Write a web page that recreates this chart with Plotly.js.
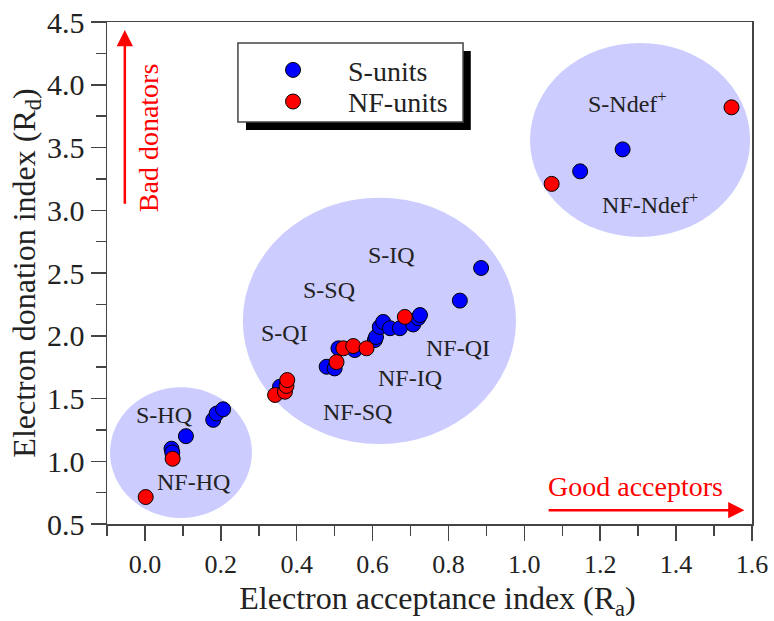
<!DOCTYPE html>
<html>
<head>
<meta charset="utf-8">
<script src="https://cdn.plot.ly/plotly-3.0.1.min.js"></script>
<style>html,body{margin:0;padding:0;background:#fff;}#chart{width:774px;height:621px;}</style>
</head>
<body>
<div id="chart"></div>
<script>
// ---- data ----
const sX = [0.070, 0.072, 0.108, 0.180, 0.189, 0.206, 0.356, 0.479, 0.500, 0.510, 0.553, 0.606, 0.609, 0.619, 0.628, 0.646, 0.672, 0.707, 0.720, 0.725, 0.830, 0.886, 1.147, 1.259];
const sY = [1.10, 1.07, 1.20, 1.33, 1.38, 1.414, 1.594, 1.753, 1.74, 1.90, 1.886, 1.966, 1.99, 2.07, 2.11, 2.06, 2.06, 2.09, 2.14, 2.165, 2.28, 2.54, 3.31, 3.485];
const nfX = [0.002, 0.073, 0.343, 0.369, 0.373, 0.375, 0.505, 0.523, 0.549, 0.584, 0.685, 1.072, 1.546];
const nfY = [0.715, 1.02, 1.528, 1.554, 1.60, 1.647, 1.79, 1.90, 1.918, 1.90, 2.15, 3.21, 3.82];
const seriesNames = ["S-units", "NF-units"];

// group regions (ellipse bounds, data units): [x0, x1, y0, y1]
const groupHQ = [-0.092, 0.282, 0.548, 1.59];
const groupMid = [0.258, 0.978, 1.137, 3.10];
const groupNdef = [1.015, 1.595, 2.787, 4.333];

// group labels
const labelText = ["S-HQ", "NF-HQ", "S-QI", "S-SQ", "S-IQ", "NF-IQ", "NF-SQ", "NF-QI", "S-Ndef<sup>+</sup>", "NF-Ndef<sup>+</sup>"];
const labelX = [0.050, 0.127, 0.367, 0.485, 0.650, 0.698, 0.560, 0.825, 1.273, 1.331];
const labelY = [1.37, 0.835, 2.02, 2.365, 2.64, 1.66, 1.39, 1.90, 3.86, 3.06];

const xTickVals = [0.0, 0.2, 0.4, 0.6, 0.8, 1.0, 1.2, 1.4, 1.6];
const yTickVals = [0.5, 1.0, 1.5, 2.0, 2.5, 3.0, 3.5, 4.0, 4.5];

// ---- styling ----
const FONT = "Liberation Serif, Times New Roman, serif";
const AX = "#444";
const ELL = "rgb(204,204,255)";
const PAD = "&nbsp;&nbsp;&nbsp;&nbsp;&nbsp;";

function ell(b) {
  return {type: "circle", xref: "x", yref: "y", x0: b[0], x1: b[1], y0: b[2], y1: b[3],
          fillcolor: ELL, line: {width: 0}, layer: "below"};
}

const traces = [
  {x: sX, y: sY, name: PAD + seriesNames[0], type: "scatter", mode: "markers", legend: "legend",
   marker: {color: "#0000ff", size: 15, line: {color: "#000", width: 1}}},
  {x: nfX, y: nfY, name: PAD + seriesNames[1], type: "scatter", mode: "markers", legend: "legend2",
   marker: {color: "#ff0000", size: 15, line: {color: "#000", width: 1}}}
];

const annotations = labelText.map((t, i) => ({
  x: labelX[i], y: labelY[i], xref: "x", yref: "y", text: t, showarrow: false,
  font: {family: FONT, size: 24, color: "#222"}
}));

// arrows
annotations.push({x: 1.58, y: 0.61, ax: 1.06, ay: 0.61, xref: "x", yref: "y", axref: "x", ayref: "y",
  text: "", showarrow: true, arrowhead: 2, arrowsize: 1.3, arrowwidth: 2.5, arrowcolor: "#ff0000"});
annotations.push({x: 1.058, y: 0.795, xref: "x", yref: "y", xanchor: "left", text: "Good acceptors", showarrow: false,
  font: {family: FONT, size: 28, color: "#ff0000"}});
annotations.push({x: -0.053, y: 4.436, ax: -0.053, ay: 3.04, xref: "x", yref: "y", axref: "x", ayref: "y",
  text: "", showarrow: true, arrowhead: 2, arrowsize: 1.3, arrowwidth: 2.5, arrowcolor: "#ff0000"});
annotations.push({x: 0.010, y: 3.58, xref: "x", yref: "y", text: "Bad donators", showarrow: false, textangle: -90,
  font: {family: FONT, size: 28, color: "#ff0000"}});

const shapes = [
  ell(groupHQ), ell(groupMid), ell(groupNdef),
  // legend shadow and box
  {type: "rect", xref: "paper", yref: "paper", x0: 0.2155, x1: 0.564, y0: 0.785, y1: 0.942,
   fillcolor: "#000", line: {width: 0}, layer: "above"},
  {type: "rect", xref: "paper", yref: "paper", x0: 0.203, x1: 0.552, y0: 0.801, y1: 0.958,
   fillcolor: "#fff", line: {color: "#444", width: 1.5}, layer: "above"}
];

const axisCommon = {
  showgrid: false, zeroline: false, showline: true, linecolor: AX, linewidth: 1.5, mirror: true,
  ticks: "outside", ticklen: 15, tickwidth: 1.5, tickcolor: AX,
  tickformat: ".1f"
};

const legendCommon = {xanchor: "left", yanchor: "middle", bgcolor: "rgba(0,0,0,0)", borderwidth: 0,
  font: {family: FONT, size: 28, color: "#222"}};

const layout = {
  width: 774, height: 621,
  margin: {l: 107, r: 22, t: 22, b: 97},
  paper_bgcolor: "#fff", plot_bgcolor: "#fff",
  showlegend: true,
  legend: Object.assign({}, legendCommon, {x: 0.2574, y: 0.904}),
  legend2: Object.assign({}, legendCommon, {x: 0.2574, y: 0.841}),
  xaxis: Object.assign({}, axisCommon, {
    range: [-0.1, 1.6], tickmode: "array", tickvals: xTickVals, ticklabelstandoff: 1,
    tickfont: {family: FONT, size: 26, color: "#222"},
    minor: {dtick: 0.1, tick0: 0, ticks: "outside", ticklen: 10, tickwidth: 1.5, tickcolor: AX},
    title: {text: "&nbsp;&nbsp;Electron acceptance index (R<sub>a</sub>)", font: {family: FONT, size: 32, color: "#222"}, standoff: 10}
  }),
  yaxis: Object.assign({}, axisCommon, {
    range: [0.5, 4.5], tickmode: "array", tickvals: yTickVals, ticklabelstandoff: 0,
    tickfont: {family: FONT, size: 30, color: "#222"},
    minor: {dtick: 0.25, tick0: 0, ticks: "outside", ticklen: 10, tickwidth: 1.5, tickcolor: AX},
    title: {text: "Electron donation index (R<sub>d</sub>)", font: {family: FONT, size: 32, color: "#222"}, standoff: 2}
  }),
  shapes: shapes,
  annotations: annotations
};

Plotly.newPlot("chart", traces, layout, {displayModeBar: false, staticPlot: true});
</script>
</body>
</html>
